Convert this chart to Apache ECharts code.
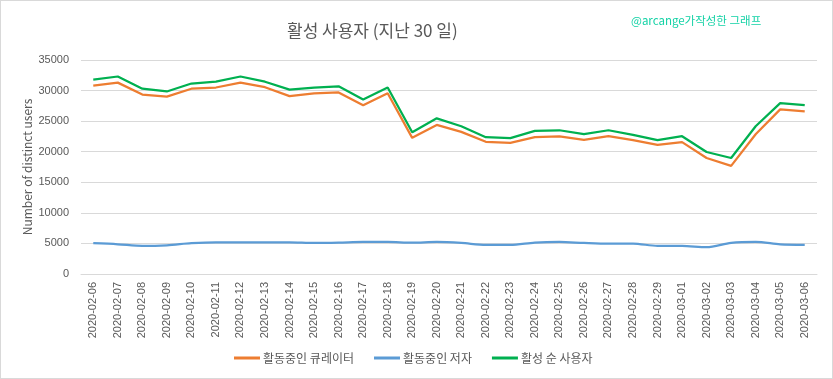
<!DOCTYPE html>
<html>
<head>
<meta charset="utf-8">
<script src="https://cdn.jsdelivr.net/npm/echarts@6/dist/echarts.min.js"></script>
<style>
html,body{margin:0;padding:0;background:#fff;}
#c{width:833px;height:379px;box-sizing:border-box;border:1px solid #d9d9d9;}
</style>
</head>
<body>
<div id="c"></div>
<script>
const categories = ['2020-02-06','2020-02-07','2020-02-08','2020-02-09','2020-02-10','2020-02-11','2020-02-12','2020-02-13','2020-02-14','2020-02-15','2020-02-16','2020-02-17','2020-02-18','2020-02-19','2020-02-20','2020-02-21','2020-02-22','2020-02-23','2020-02-24','2020-02-25','2020-02-26','2020-02-27','2020-02-28','2020-02-29','2020-03-01','2020-03-02','2020-03-03','2020-03-04','2020-03-05','2020-03-06'];
const curators = [30800,31300,29350,29000,30300,30500,31300,30550,29100,29550,29700,27600,29550,22270,24380,23240,21620,21460,22380,22490,21950,22540,21890,21130,21570,18970,17680,22860,26920,26590];
const authors = [5030,4860,4600,4700,5030,5190,5190,5190,5190,5080,5130,5240,5240,5130,5240,5080,4760,4760,5130,5240,5080,4970,4970,4600,4600,4380,5080,5240,4860,4760];
const activeUsers = [31800,32300,30300,29850,31150,31450,32300,31450,30150,30500,30700,28540,30490,23190,25460,24160,22380,22220,23410,23510,22860,23510,22760,21890,22540,19950,18970,24160,27950,27620];
const seriesNames = ['활동중인 큐레이터','활동중인 저자','활성 순 사용자'];
const yTicks = {min:0, max:35000, interval:5000};

const chart = echarts.init(document.getElementById('c'), null, {renderer:'canvas'});
const txt = '#595959';
const font = '"Noto Sans CJK KR", "Liberation Sans", sans-serif';
chart.setOption({
  animation:false,
  textStyle:{fontFamily:font},
  title:[
    {text:'활성 사용자 (지난 30 일)', left:281, top:16, textStyle:{fontSize:17, fontWeight:'normal', color:txt, fontFamily:font}},
    {text:'@arcange가작성한 그래프', left:625, top:9, textStyle:{fontSize:11.5, fontWeight:'normal', color:'#14d2a6', fontFamily:font}}
  ],
  legend:{
    left:228, top:346, itemGap:20, itemWidth:26, itemHeight:3, icon:'rect',
    textStyle:{fontSize:12, color:txt, fontFamily:font, padding:[0,0,0,-2]},
    data:seriesNames
  },
  grid:{left:80, right:15, top:59, bottom:104, outerBoundsMode:'none'},
  xAxis:{
    type:'category', data:categories, boundaryGap:true,
    axisLine:{show:true, lineStyle:{color:'#d9d9d9', width:1}},
    axisTick:{show:false},
    axisLabel:{rotate:90, interval:0, fontSize:11, color:txt, margin:8, fontFamily:'"Liberation Sans", sans-serif'}
  },
  yAxis:{
    type:'value', min:yTicks.min, max:yTicks.max, interval:yTicks.interval,
    name:'Number of distinct users', nameLocation:'middle', nameGap:48, nameMoveOverlap:false,
    nameTextStyle:{fontSize:12, color:txt, fontFamily:font},
    axisLine:{show:false}, axisTick:{show:false},
    axisLabel:{fontSize:11, color:txt, margin:12, fontFamily:'"Liberation Sans", sans-serif', formatter:function(v){return String(v);}},
    splitLine:{lineStyle:{color:'#d9d9d9', width:1}}
  },
  series:[
    {name:seriesNames[0], type:'line', data:curators, symbol:'none', lineStyle:{color:'#ED7D31', width:2.25}, itemStyle:{color:'#ED7D31'}},
    {name:seriesNames[1], type:'line', data:authors, symbol:'none', smooth:0.3, lineStyle:{color:'#5B9BD5', width:2.25}, itemStyle:{color:'#5B9BD5'}},
    {name:seriesNames[2], type:'line', data:activeUsers, symbol:'none', lineStyle:{color:'#00B050', width:2.25}, itemStyle:{color:'#00B050'}}
  ]
});
</script>
</body>
</html>
